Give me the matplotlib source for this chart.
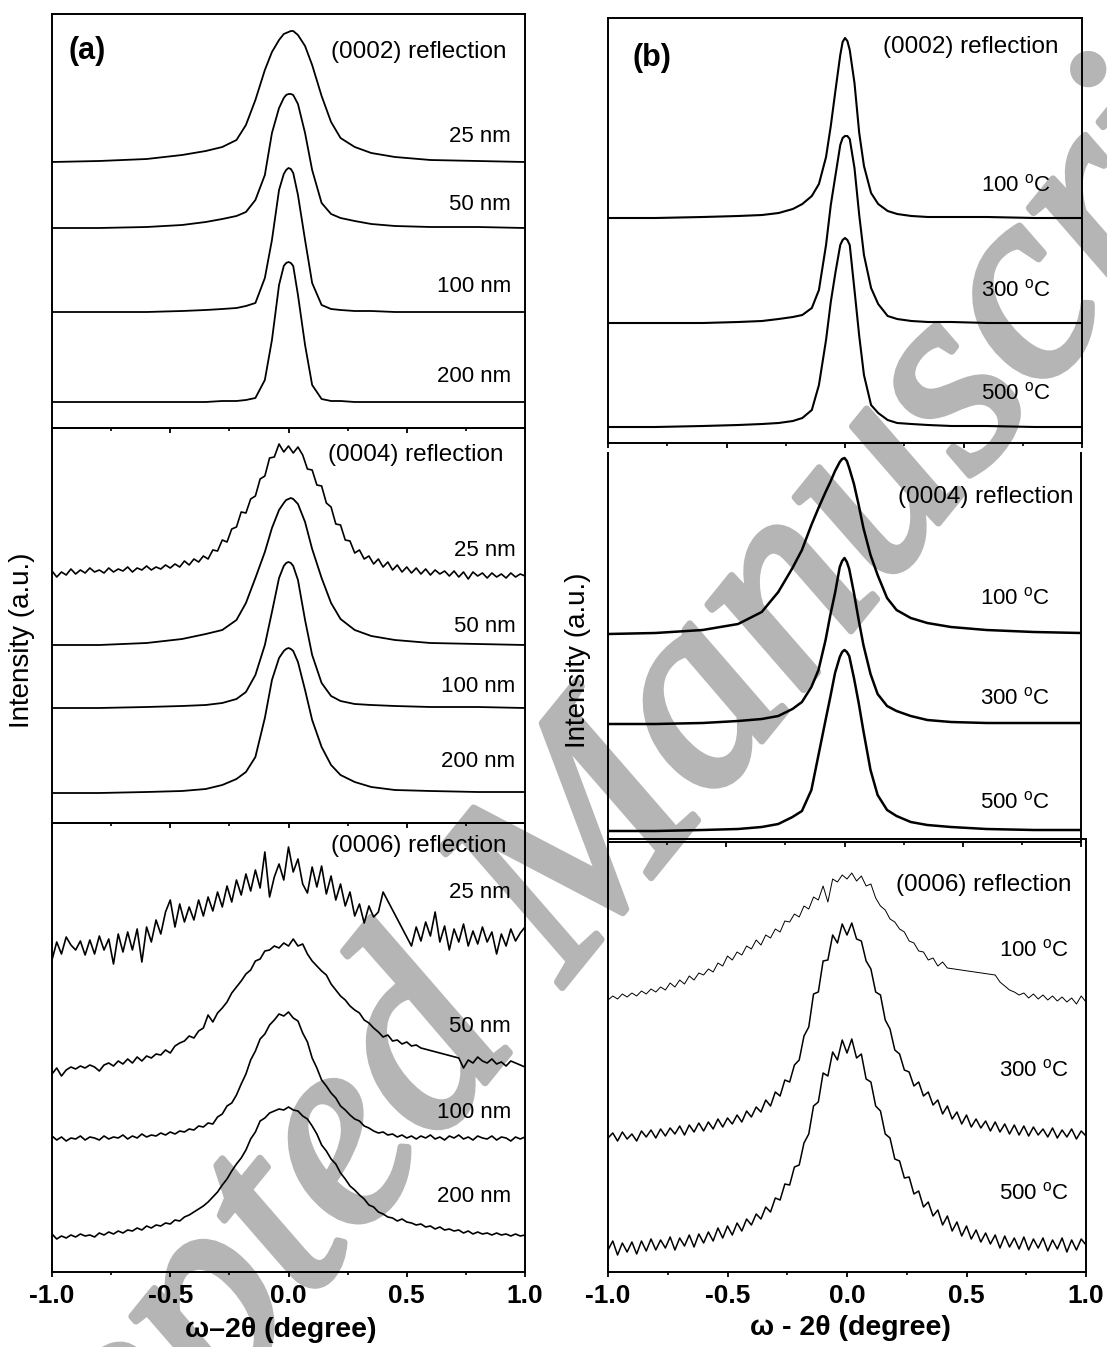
import numpy as np
import matplotlib
matplotlib.use('Agg')
import matplotlib.pyplot as plt
import matplotlib.patheffects as pe

plt.rcParams['font.family'] = ['Liberation Sans', 'DejaVu Sans']
plt.rcParams['mathtext.fontset'] = 'custom'
plt.rcParams['mathtext.rm'] = 'Liberation Sans'
plt.rcParams['mathtext.it'] = 'Liberation Sans:italic'
plt.rcParams['mathtext.bf'] = 'Liberation Sans:bold'

# ---------------- data (intensity in a.u., curves already stacked) ----------------
# coarse grids used for the smooth scans
x_g = [-1.0, -0.8, -0.6, -0.45, -0.35, -0.28, -0.22, -0.18, -0.14, -0.10, -0.07, -0.04, -0.02, -0.01, 0.0,
       0.01, 0.02, 0.04, 0.07, 0.10, 0.14, 0.18, 0.22, 0.28, 0.35, 0.45, 0.6, 0.8, 1.0]
x_g2 = [-1.0, -0.8, -0.6, -0.45, -0.35, -0.28, -0.22, -0.18, -0.14, -0.11, -0.08, -0.06, -0.04, -0.02, -0.01,
        0.0, 0.01, 0.02, 0.04, 0.06, 0.08, 0.11, 0.14, 0.18, 0.22, 0.28, 0.35, 0.45, 0.6, 0.8, 1.0]
# step scans at 0.02 degree
x_full = np.linspace(-1.0, 1.0, 101)

thick_labels = ['25 nm', '50 nm', '100 nm', '200 nm']
temp_labels = ['100 $^{\\rm o}$C', '300 $^{\\rm o}$C', '500 $^{\\rm o}$C']

# (a) (0002)
a1_25 = [266, 267, 269, 273, 277, 281, 288, 303, 328, 358, 376, 388, 394, 395, 396, 397, 397, 393, 382, 363,
         332, 306, 290, 281, 275, 271, 268, 267, 266]
a1_50 = [200, 200, 201, 203, 206, 209, 212, 216, 228, 253, 295, 320, 330, 333, 334, 334, 333, 324, 295, 258,
         225, 214, 210, 207, 204, 202, 201, 201, 200]
a1_100 = [116, 116, 116, 117, 118, 119, 120, 122, 125, 150, 188, 238, 254, 258, 260, 259, 255, 233, 188, 145,
          123, 119, 118, 117, 117, 116, 116, 116, 116]
a1_200 = [26, 26, 26, 26, 26, 27, 27, 28, 30, 48, 88, 143, 162, 165, 166, 165, 162, 133, 83, 43,
          29, 27, 27, 26, 26, 26, 26, 26, 26]

# (a) (0004)
a2_25 = [252, 246, 251, 248, 254, 249, 253, 250, 255, 251,
         253, 250, 255, 251, 254, 252, 256, 251, 255, 253,
         257, 253, 256, 254, 258, 255, 259, 256, 262, 258,
         264, 261, 267, 264, 273, 272, 283, 281, 294, 296,
         311, 310, 324, 327, 344, 347, 365, 366, 379, 371,
         377, 370, 376, 368, 354, 353, 338, 337, 320, 316,
         299, 298, 283, 282, 270, 273, 264, 267, 259, 264,
         256, 261, 253, 258, 251, 256, 250, 255, 249, 254,
         248, 253, 249, 252, 247, 252, 246, 251, 244, 251,
         247, 250, 245, 250, 246, 249, 245, 250, 246, 249,
         247]
a2_50 = [178, 178, 180, 184, 189, 193, 203, 220, 245, 271, 295, 313, 320, 323, 324, 325, 324, 319, 301, 274,
         245, 220, 204, 193, 187, 183, 180, 179, 178]
a2_100 = [115, 115, 116, 117, 118, 120, 124, 131, 148, 178, 211, 245, 257, 260, 261, 260, 257, 243, 203, 168,
          140, 127, 122, 119, 118, 117, 116, 116, 115]
a2_200 = [30, 30, 31, 32, 34, 38, 44, 51, 66, 105, 143, 165, 172, 174, 175, 174, 172, 161, 133, 103,
          76, 58, 48, 41, 36, 33, 32, 31, 31]

# (a) (0006) - the 25 and 50 nm scans have a gap in the data
x_a3_25 = np.concatenate([np.linspace(-1.0, 0.40, 71), np.linspace(0.52, 1.0, 25)])
a3_25 = [312, 330, 318, 335, 327, 322, 331, 317, 332, 318,
         336, 322, 333, 308, 338, 320, 340, 322, 343, 310,
         345, 330, 352, 338, 360, 372, 345, 368, 350, 365,
         352, 372, 356, 375, 361, 380, 365, 386, 370, 392,
         377, 398, 381, 402, 384, 420, 375, 395, 408, 392,
         425, 400, 413, 388, 379, 405, 385, 406, 378, 396,
         372, 388, 366, 380, 356, 368, 349, 366, 355, 360,
         380,
         326, 345, 331, 350, 336, 360, 330, 346, 322, 343,
         330, 348, 326, 341, 328, 345, 330, 340, 318, 338,
         326, 343, 331, 339, 345]
x_a3_50 = np.concatenate([np.linspace(-1.0, 0.56, 79), np.linspace(0.72, 1.0, 15)])
a3_50 = [198, 204, 196, 202, 205, 203, 206, 204, 207, 205,
         201, 207, 209, 206, 211, 208, 213, 209, 215, 211,
         216, 214, 218, 217, 222, 219, 226, 229, 231, 236,
         234, 241, 244, 257, 250, 259, 264, 270, 279, 285,
         291, 298, 302, 311, 313, 321, 322, 326, 324, 329,
         326, 333, 326, 328, 318, 311, 306, 301, 297, 288,
         282, 276, 272, 266, 262, 259, 252, 249, 244, 240,
         235, 237, 231, 232, 228, 230, 226, 227, 224,
         214, 204, 212, 209, 215, 211, 209, 213, 208, 210,
         206, 211, 209, 207, 205]
a3_100 = [136, 132, 135, 131, 134, 133, 136, 132, 135, 134,
          132, 136, 133, 135, 134, 137, 133, 136, 134, 138,
          135, 137, 136, 139, 137, 140, 138, 141, 140, 143,
          142, 146, 145, 149, 148, 155, 158, 166, 169, 177,
          188, 198, 212, 221, 233, 238, 247, 252, 258, 256,
          260, 254, 251, 239, 230, 214, 204, 192, 186, 179,
          174, 166, 162, 157, 153, 151, 146, 144, 141, 139,
          140, 137, 138, 135, 137, 134, 136, 133, 136, 134,
          137, 133, 135, 132, 136, 134, 137, 133, 135, 132,
          136, 134, 133, 136, 132, 135, 134, 131, 135, 133,
          135]
a3_200 = [38, 33, 36, 34, 37, 35, 38, 36, 37, 35,
          39, 37, 40, 38, 41, 39, 42, 41, 44, 42,
          46, 44, 47, 46, 49, 48, 52, 51, 55, 57,
          60, 63, 66, 70, 75, 80, 87, 93, 101, 108,
          114, 122, 133, 140, 151, 154, 159, 161, 163, 162,
          165, 162, 161, 156, 153, 146, 138, 127, 121, 113,
          108, 99, 93, 86, 82, 77, 73, 67, 65, 60,
          58, 55, 54, 51, 53, 50, 49, 47, 48, 45,
          46, 43, 45, 42, 43, 41, 42, 39, 41, 38,
          40, 38, 39, 37, 39, 37, 38, 36, 38, 36,
          37]

# (b) (0002)
b1_100 = [225, 225, 226, 227, 228, 230, 234, 239, 247, 259, 286, 317, 353, 388, 401, 405, 402, 393, 360, 310,
          277, 250, 239, 232, 229, 227, 226, 226, 226, 225, 225]
b1_300 = [120, 120, 120, 121, 122, 124, 126, 128, 135, 153, 198, 238, 268, 298, 305, 307, 307, 304, 275, 228,
          188, 155, 139, 127, 124, 122, 121, 121, 120, 120, 120]
b1_500 = [16, 16, 17, 18, 19, 20, 22, 25, 33, 58, 103, 141, 171, 198, 203, 205, 203, 198, 153, 107,
          68, 38, 30, 23, 20, 19, 18, 17, 17, 16, 16]

# (b) (0004)
b2_100 = [208, 209, 212, 218, 230, 250, 274, 292, 317, 334, 350, 360, 371, 380, 383, 384, 381, 374, 358, 337,
          314, 287, 267, 244, 232, 224, 219, 215, 212, 210, 209]
b2_300 = [118, 118, 119, 121, 123, 126, 133, 140, 155, 172, 202, 227, 249, 275, 281, 284, 280, 273, 249, 222,
          197, 168, 148, 136, 131, 126, 122, 120, 119, 119, 119]
b2_500 = [11, 11, 12, 13, 15, 18, 25, 31, 52, 87, 122, 145, 169, 185, 190, 192, 190, 186, 164, 139,
          111, 72, 47, 32, 26, 20, 17, 15, 13, 12, 12]

# (b) (0006)
x_b3_100 = np.concatenate([np.linspace(-1.0, 0.42, 72), np.linspace(0.62, 1.0, 20)])
b3_100 = [272, 276, 273, 278, 275, 279, 276, 281, 278, 283,
          280, 285, 282, 289, 285, 292, 288, 296, 292, 299,
          297, 303, 300, 309, 306, 316, 312, 320, 317, 326,
          323, 332, 327, 337, 334, 343, 340, 351, 350, 358,
          355, 366, 363, 375, 372, 386, 370, 393, 390, 397,
          393, 399, 391, 396, 386, 388, 374, 366, 362, 353,
          350, 343, 340, 331, 329, 321, 320, 312, 314, 306,
          310, 304,
          297, 290, 286, 282, 280, 277, 279, 274, 278, 273,
          277, 272, 276, 271, 275, 270, 274, 268, 276, 270]
b3_300 = [134, 139, 131, 140, 133, 138, 131, 141, 135, 142,
          134, 143, 136, 144, 138, 146, 137, 147, 140, 149,
          141, 150, 143, 153, 145, 154, 148, 157, 150, 161,
          155, 165, 160, 172, 166, 180, 176, 192, 190, 207,
          212, 236, 245, 278, 280, 311, 312, 337, 329, 348,
          337, 349, 333, 331, 311, 303, 280, 277, 252, 243,
          222, 218, 202, 200, 186, 190, 176, 180, 167, 172,
          158, 166, 153, 160, 148, 157, 145, 153, 144, 151,
          141, 150, 140, 148, 138, 147, 137, 146, 136, 145,
          137, 143, 135, 144, 134, 142, 135, 143, 133, 141,
          136]
b3_500 = [22, 31, 17, 29, 20, 30, 18, 31, 21, 33,
          22, 32, 24, 35, 22, 34, 26, 37, 25, 38,
          29, 40, 31, 44, 34, 46, 37, 49, 41, 53,
          47, 58, 53, 65, 60, 74, 72, 88, 87, 105,
          107, 129, 138, 166, 170, 199, 196, 220, 212, 232,
          219, 233, 214, 218, 193, 190, 166, 161, 138, 134,
          113, 111, 94, 95, 78, 81, 65, 70, 56, 62,
          47, 56, 41, 50, 36, 46, 33, 42, 30, 39,
          28, 37, 24, 36, 25, 34, 23, 35, 22, 33,
          24, 34, 21, 32, 23, 34, 20, 32, 22, 33,
          27]

# ---------------- figure ----------------
W, H = 1107, 1347
fig = plt.figure(figsize=(W / 100, H / 100), dpi=100)


def make_ax(left, top, right, bottom):
    ax = fig.add_axes([left / W, 1 - bottom / H, (right - left) / W, (bottom - top) / H])
    ax.set_facecolor('none')
    ax.set_xlim(-1, 1)
    ax.set_ylim(0, bottom - top)
    ax.set_yticks([])
    ax.set_xticks([-1.0, -0.5, 0.0, 0.5, 1.0])
    ax.set_xticks([-0.75, -0.25, 0.25, 0.75], minor=True)
    ax.tick_params(axis='x', which='major', direction='out', length=3.5, width=1.3, labelbottom=False)
    ax.tick_params(axis='x', which='minor', direction='out', length=2.2, width=1.2)
    for s in ax.spines.values():
        s.set_linewidth(1.4)
    return ax


def bottom_labels(ax):
    ax.tick_params(axis='x', which='major', labelbottom=True, labelsize=19, pad=5)
    ax.set_xticklabels(['-1.0', '-0.5', '0.0', '0.5', '1.0'], fontweight='bold')


lab = dict(fontsize=16, ha='right', va='center')
refl = dict(fontsize=17.5, ha='right', va='center')

a1 = make_ax(52, 14, 525, 428)
a2 = make_ax(52, 428, 525, 823)
a3 = make_ax(52, 823, 525, 1272)
b1 = make_ax(608, 18, 1082, 443)
b2 = make_ax(608, 453, 1081, 842)
b2.spines['top'].set_visible(False)
b3 = make_ax(608, 839, 1086, 1272)
bottom_labels(a3)
bottom_labels(b3)

# (a) (0002)
for y in [a1_25, a1_50, a1_100, a1_200]:
    a1.plot(x_g, y, color='black', lw=1.3)
a1.text(-0.93, 377, '(a)', fontsize=22, fontweight='bold', ha='left', va='center')
a1.text(0.92, 376, '(0002) reflection', **refl)
for t, h in zip(thick_labels, [292, 224, 141, 51]):
    a1.text(0.94, h, t, **lab)

# (a) (0004)
a2.plot(x_full, a2_25, color='black', lw=1.2)
for y in [a2_50, a2_100, a2_200]:
    a2.plot(x_g, y, color='black', lw=1.3)
a2.text(0.91, 368, '(0004) reflection', **refl)
for t, h in zip(thick_labels, [273, 197, 136, 61]):
    a2.text(0.96, h, t, **lab)

# (a) (0006)
a3.plot(x_a3_25, a3_25, color='black', lw=1.2)
a3.plot(x_a3_50, a3_50, color='black', lw=1.2)
a3.plot(x_full, a3_100, color='black', lw=1.2)
a3.plot(x_full, a3_200, color='black', lw=1.2)
a3.text(0.92, 426, '(0006) reflection', **refl)
for t, h in zip(thick_labels, [380, 245, 159, 75]):
    a3.text(0.94, h, t, **lab)

# (b) (0002)
for y in [b1_100, b1_300, b1_500]:
    b1.plot(x_g2, y, color='black', lw=1.5)
b1.text(-0.895, 385, '(b)', fontsize=22, fontweight='bold', ha='left', va='center')
b1.text(0.90, 396, '(0002) reflection', **refl)
for t, h in zip(temp_labels, [258, 153, 50]):
    b1.text(0.87, h, t, **lab)

# (b) (0004)
for y in [b2_100, b2_300, b2_500]:
    b2.plot(x_g2, y, color='black', lw=1.8)
b2.text(0.97, 345, '(0004) reflection', **refl)
for t, h in zip(temp_labels, [244, 144, 40]):
    b2.text(0.87, h, t, **lab)

# (b) (0006)
b3.plot(x_b3_100, b3_100, color='black', lw=0.7)
b3.plot(x_full, b3_300, color='black', lw=1.1)
b3.plot(x_full, b3_500, color='black', lw=1.1)
b3.text(0.94, 387, '(0006) reflection', **refl)
for t, h in zip(temp_labels, [322, 202, 79]):
    b3.text(0.93, h, t, **lab)

# axis titles
fig.text(281 / W, 1 - 1330 / H, 'ω–2θ (degree)', fontsize=20.5, fontweight='bold', ha='center', va='center')
fig.text(850 / W, 1 - 1328 / H, 'ω - 2θ (degree)', fontsize=20.5, fontweight='bold', ha='center', va='center')
fig.text(22 / W, 1 - 640 / H, 'Intensity (a.u.)', fontsize=20, rotation=90, ha='center', va='center')
fig.text(578 / W, 1 - 660 / H, 'Intensity (a.u.)', fontsize=20, rotation=90, ha='center', va='center')

# watermark of the accepted manuscript, under the data
wm_grey = '#b5b5b5'
fig.text(625 / W, 1 - 910 / H, 'Accepted Manuscript', fontsize=200, family='Liberation Serif',
         style='italic', color=wm_grey, rotation=51, rotation_mode='anchor',
         ha='center', va='baseline', zorder=-5,
         path_effects=[pe.withStroke(linewidth=5, foreground=wm_grey)])

fig.savefig('out.png', dpi=100)
